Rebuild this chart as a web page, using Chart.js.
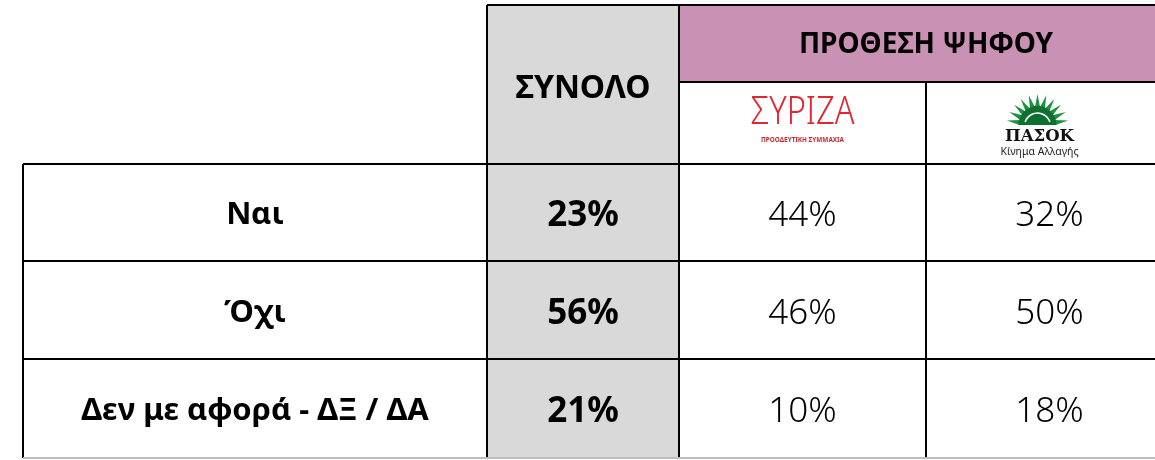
<!DOCTYPE html>
<html>
<head>
<meta charset="utf-8">
<script src="https://cdn.jsdelivr.net/npm/chart.js@4.4.0/dist/chart.umd.min.js"></script>
<style>
  html, body { margin: 0; padding: 0; background: #fff; }
  #wrap { width: 1155px; height: 460px; }
</style>
</head>
<body>
<div id="wrap"><canvas id="tabla" width="1155" height="460"></canvas></div>
<script>
// Datos
const rowLabels = ['Ναι', 'Όχι', 'Δεν με αφορά - ΔΞ / ΔΑ'];
const totalLabel = 'ΣΥΝΟΛΟ';
const groupLabel = 'ΠΡΟΘΕΣΗ ΨΗΦΟΥ';
const parties = ['ΣΥΡΙΖΑ', 'ΠΑΣΟΚ'];
const totalValues = [23, 56, 21];
const syrizaValues = [44, 46, 10];
const pasokValues = [32, 50, 18];

// Geometría de la tabla (unidades de las escalas)
const colEdges = [23, 487, 679, 926, 1173];
const headEdges = [5, 82, 164];
const rowEdges = [164, 261, 359, 458];

const FONT = '"Noto Sans", "DejaVu Sans", sans-serif';
const PINK = '#c991b4';
const GRAY = '#d9d9d9';

const mid = (a, b) => (a + b) / 2;

// puntos de cada celda de valores (centro de celda)
function cellPoints(values, col) {
  return values.map((v, i) => ({
    x: mid(colEdges[col], colEdges[col + 1]),
    y: mid(rowEdges[i], rowEdges[i + 1]),
    v: v
  }));
}

const datasets = [
  { label: totalLabel, data: cellPoints(totalValues, 1), bold: true },
  { label: parties[0], data: cellPoints(syrizaValues, 2), bold: false },
  { label: parties[1], data: cellPoints(pasokValues, 3), bold: false }
].map(d => Object.assign(d, { pointRadius: 0, pointHoverRadius: 0 }));

function drawSyriza(ctx, cx, cy) {
  ctx.save();
  const grad = ctx.createLinearGradient(cx - 52, 0, cx + 52, 0);
  grad.addColorStop(0, '#e2262f');
  grad.addColorStop(1, '#9c2328');
  ctx.fillStyle = grad;
  ctx.textAlign = 'center';
  ctx.textBaseline = 'alphabetic';
  ctx.font = '300 38px ' + FONT;
  const w = ctx.measureText('ΣΥΡΙΖΑ').width;
  ctx.translate(cx, cy + 1);
  ctx.scale(104 / w, 1);
  ctx.fillText('ΣΥΡΙΖΑ', 0, 0);
  ctx.restore();

  ctx.save();
  ctx.fillStyle = '#c52a30';
  ctx.textAlign = 'center';
  ctx.font = 'bold 7px ' + FONT;
  const w2 = ctx.measureText('ΠΡΟΟΔΕΥΤΙΚΗ ΣΥΜΜΑΧΙΑ').width;
  ctx.translate(cx, cy + 19);
  ctx.scale(83 / w2, 1);
  ctx.fillText('ΠΡΟΟΔΕΥΤΙΚΗ ΣΥΜΜΑΧΙΑ', 0, 0);
  ctx.restore();
}

function drawPasok(ctx, cx, cy) {
  // sol
  const sx = cx - 2, sy = cy + 2;
  ctx.save();
  ctx.fillStyle = '#1e9140';
  ctx.beginPath();
  const rays = 11;
  ctx.moveTo(sx - 18, sy);
  for (let i = 0; i < rays; i++) {
    const a0 = Math.PI + (Math.PI * i) / rays;
    const a1 = Math.PI + (Math.PI * (i + 0.5)) / rays;
    const a2 = Math.PI + (Math.PI * (i + 1)) / rays;
    ctx.lineTo(sx + Math.cos(a0) * 18, sy + Math.sin(a0) * 18);
    ctx.lineTo(sx + Math.cos(a1) * 31, sy + Math.sin(a1) * 31);
    ctx.lineTo(sx + Math.cos(a2) * 18, sy + Math.sin(a2) * 18);
  }
  ctx.closePath();
  ctx.fill();
  ctx.fillStyle = '#0f6f30';
  ctx.beginPath();
  ctx.arc(sx, sy, 19, Math.PI, 2 * Math.PI);
  ctx.closePath();
  ctx.fill();
  ctx.strokeStyle = '#ffffff';
  ctx.lineWidth = 1.6;
  ctx.beginPath();
  ctx.arc(sx, sy + 1, 13, Math.PI * 1.1, Math.PI * 1.9);
  ctx.stroke();
  ctx.restore();

  ctx.save();
  ctx.fillStyle = '#111';
  ctx.textAlign = 'center';
  ctx.font = 'bold 16px "DejaVu Serif", "Liberation Serif", serif';
  const w = ctx.measureText('ΠΑΣΟΚ').width;
  ctx.translate(cx, cy + 18);
  ctx.scale(69 / w, 1);
  ctx.fillText('ΠΑΣΟΚ', 0, 0);
  ctx.restore();

  ctx.save();
  ctx.fillStyle = '#222';
  ctx.textAlign = 'center';
  ctx.font = '10.5px ' + FONT;
  ctx.fillText('Κίνημα Αλλαγής', cx, cy + 32);
  ctx.restore();
}

const tablePlugin = {
  id: 'tablaPlugin',
  beforeDatasetsDraw(chart) {
    const { ctx, scales: { x, y } } = chart;
    const X = v => x.getPixelForValue(v);
    const Y = v => y.getPixelForValue(v);

    // fondos
    ctx.save();
    ctx.fillStyle = GRAY;
    ctx.fillRect(X(colEdges[1]), Y(headEdges[0]), X(colEdges[2]) - X(colEdges[1]), Y(rowEdges[3]) - Y(headEdges[0]));
    ctx.fillStyle = PINK;
    ctx.fillRect(X(colEdges[2]), Y(headEdges[0]), X(colEdges[4]) - X(colEdges[2]), Y(headEdges[1]) - Y(headEdges[0]));

    // líneas
    ctx.strokeStyle = '#000';
    ctx.lineWidth = 2;
    const line = (x0, y0, x1, y1) => {
      ctx.beginPath();
      ctx.moveTo(X(x0), Y(y0));
      ctx.lineTo(X(x1), Y(y1));
      ctx.stroke();
    };
    line(colEdges[1], headEdges[0], colEdges[4], headEdges[0]);
    line(colEdges[2], headEdges[1], colEdges[4], headEdges[1]);
    rowEdges.slice(0, 3).forEach(r => line(colEdges[0], r, colEdges[4], r));
    line(colEdges[0], rowEdges[0], colEdges[0], rowEdges[3]);
    line(colEdges[1], headEdges[0], colEdges[1], rowEdges[3]);
    line(colEdges[2], headEdges[0], colEdges[2], rowEdges[3]);
    line(colEdges[3], headEdges[1], colEdges[3], rowEdges[3]);
    ctx.strokeStyle = '#bdbdbd';
    line(colEdges[0], rowEdges[3], colEdges[4], rowEdges[3]);

    // encabezados
    ctx.fillStyle = '#000';
    ctx.textAlign = 'center';
    ctx.textBaseline = 'middle';
    ctx.font = 'bold 32px ' + FONT;
    ctx.fillText(totalLabel, X(mid(colEdges[1], colEdges[2])), Y(mid(headEdges[0], headEdges[2])) + 4);
    ctx.font = 'bold 28px ' + FONT;
    ctx.fillText(groupLabel, X(mid(colEdges[2], colEdges[4])), Y(mid(headEdges[0], headEdges[1])) + 2);

    // filas
    ctx.font = 'bold 31px ' + FONT;
    rowLabels.forEach((lab, i) => {
      ctx.fillText(lab, X(mid(colEdges[0], colEdges[1])), Y(mid(rowEdges[i], rowEdges[i + 1])) + 3);
    });
    ctx.restore();

    drawSyriza(ctx, X(mid(colEdges[2], colEdges[3])), Y(mid(headEdges[1], headEdges[2])));
    drawPasok(ctx, X(mid(colEdges[3], colEdges[4])) - 10, Y(mid(headEdges[1], headEdges[2])));
  },
  afterDatasetsDraw(chart) {
    const { ctx } = chart;
    ctx.save();
    ctx.fillStyle = '#000';
    ctx.textAlign = 'center';
    ctx.textBaseline = 'middle';
    chart.data.datasets.forEach((ds, di) => {
      const meta = chart.getDatasetMeta(di);
      ctx.font = (ds.bold ? 'bold 35px ' : '300 35px ') + FONT;
      meta.data.forEach((pt, i) => {
        ctx.fillText(ds.data[i].v + '%', pt.x, pt.y + 4);
      });
    });
    ctx.restore();
  }
};

new Chart(document.getElementById('tabla'), {
  type: 'scatter',
  data: { datasets },
  options: {
    responsive: false,
    animation: false,
    layout: { padding: 0 },
    plugins: { legend: { display: false }, tooltip: { enabled: false } },
    scales: {
      x: { type: 'linear', min: 0, max: 1155, display: false },
      y: { type: 'linear', min: 0, max: 460, reverse: true, display: false }
    }
  },
  plugins: [tablePlugin]
});
</script>
</body>
</html>
